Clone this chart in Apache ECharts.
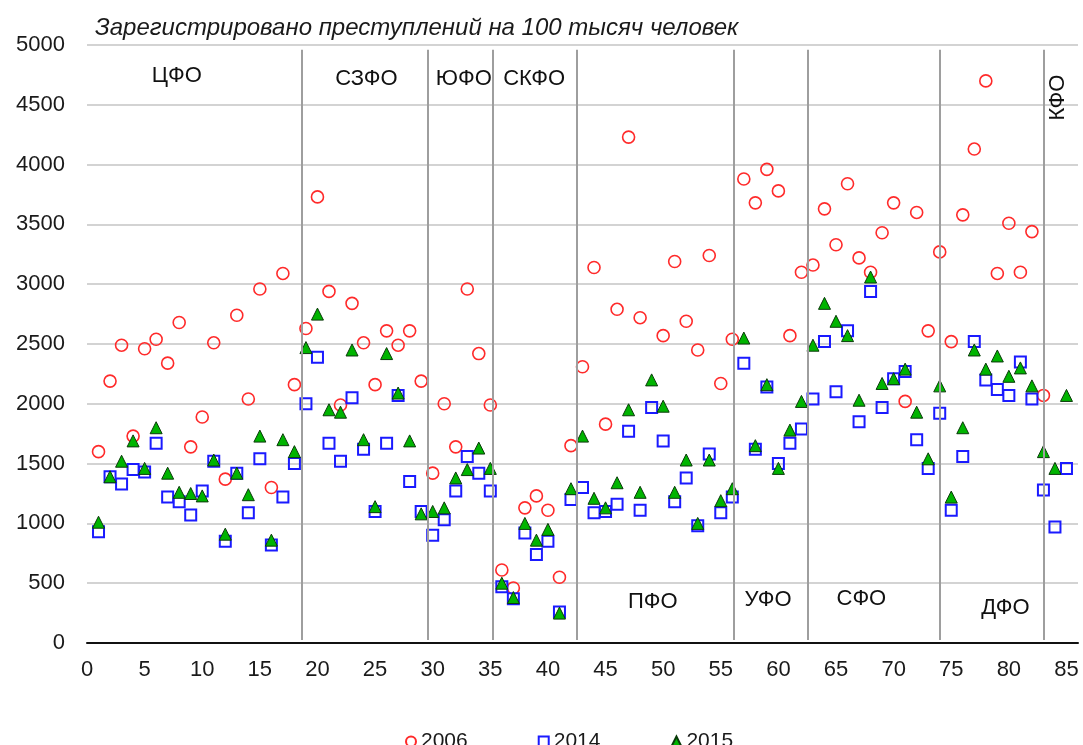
<!DOCTYPE html>
<html>
<head>
<meta charset="utf-8">
<script src="https://cdn.jsdelivr.net/npm/echarts@6/dist/echarts.min.js"></script>
<style>
  html, body { margin: 0; padding: 0; background: #fff; }
  #chart { width: 1083px; height: 745px; }
</style>
</head>
<body>
<div id="chart"></div>
<script>
  // номера регионов по оси X
  var regions = []
  for (var i = 1; i <= 85; i++) regions.push(i)

  var y2006 = [1600, 2190, 2490, 1730, 2460, 2540, 2340, 2680, 1640, 1890, 2510, 1370, 2740, 2040, 2960, 1300, 3090, 2160,
    2630, 3730, 2940, 1990, 2840, 2510, 2160, 2610, 2490, 2610, 2190,
    1420, 2000, 1640, 2960, 2420, 1990,
    610, 460, 1130, 1230, 1110, 550, 1650,
    2310, 3140, 1830, 2790, 4230, 2720, null, 2570, 3190, 2690, 2450, 3240, 2170, 2540,
    3880, 3680, 3960, 3780, 2570, 3100,
    3160, 3630, 3330, 3840, 3220, 3100, 3430, 3680, 2020, 3600, 2610, 3270,
    2520, 3580, 4130, 4700, 3090, 3510, 3100, 3440, 2070,
    null, null]

  var y2014 = [930, 1390, 1330, 1450, 1430, 1670, 1220, 1180, 1070, 1270, 1520, 850, 1420, 1090, 1540, 820, 1220, 1500,
    2000, 2390, 1670, 1520, 2050, 1620, 1100, 1670, 2070, 1350, 1100,
    900, 1030, 1270, 1560, 1420, 1270,
    470, 370, 920, 740, 850, 260, 1200,
    1300, 1090, 1100, 1160, 1770, 1110, 1970, 1690, 1180, 1380, 980, 1580, 1090, 1220,
    2340, 1620, 2140, 1500, 1670, 1790,
    2040, 2520, 2100, 2610, 1850, 2940, 1970, 2210, 2270, 1700, 1460, 1920,
    1110, 1560, 2520, 2200, 2120, 2070, 2350, 2040, 1280,
    970, 1460]

  var y2015 = [1010, 1390, 1520, 1690, 1460, 1800, 1420, 1260, 1250, 1230, 1530, 910, 1420, 1240, 1730, 860, 1700, 1600,
    2470, 2750, 1950, 1930, 2450, 1700, 1140, 2420, 2090, 1690, 1080,
    1100, 1130, 1380, 1450, 1630, 1460,
    500, 380, 1000, 860, 950, 250, 1290,
    1730, 1210, 1130, 1340, 1950, 1260, 2200, 1980, 1260, 1530, 1000, 1530, 1190, 1290,
    2550, 1650, 2160, 1460, 1780, 2020,
    2490, 2840, 2690, 2570, 2030, 3060, 2170, 2210, 2290, 1930, 1540, 2150,
    1220, 1800, 2450, 2290, 2400, 2230, 2300, 2150, 1600,
    1460, 2070]

  // границы федеральных округов (по оси X)
  var borders = [18.6, 29.6, 35.2, 42.5, 56.1, 62.55, 74.0, 83.0]

  // подписи округов
  var distNames = ['ЦФО', 'СЗФО', 'ЮФО', 'СКФО', 'ПФО', 'УФО', 'СФО', 'ДФО', 'КФО']
  var distX = [7.8, 24.25, 32.7, 38.8, 49.1, 59.1, 67.2, 79.7, 84.3]
  var distY = [4740, 4720, 4720, 4720, 340, 360, 370, 290, 4560]

  var pair = function (ys) {
    return ys.map(function (v, k) { return [regions[k], v] })
  }

  var FONT = 'Liberation Sans'

  var myChart = echarts.init(document.getElementById('chart'))
  myChart.setOption({
    animation: false,
    title: {
      text: 'Зарегистрировано преступлений на 100 тысяч человек',
      left: 90,
      top: 11,
      textStyle: { fontFamily: FONT, fontSize: 24, fontStyle: 'italic', fontWeight: 'normal', color: '#1a1a1a' }
    },
    grid: { left: 87, right: 5, top: 45, bottom: 102 },
    legend: {
      data: ['2006', '2014', '2015'],
      left: 400,
      top: 726,
      itemGap: 70,
      itemWidth: 10,
      itemHeight: 10,
      textStyle: { fontFamily: FONT, fontSize: 21, color: '#1a1a1a' }
    },
    xAxis: {
      type: 'value',
      min: 0,
      max: 86,
      interval: 5,
      splitLine: { show: false },
      axisTick: { show: false },
      axisLine: { lineStyle: { color: '#111', width: 2 } },
      axisLabel: { showMaxLabel: false, margin: 16, fontFamily: FONT, fontSize: 22, color: '#1a1a1a' }
    },
    yAxis: {
      type: 'value',
      min: 0,
      max: 5000,
      interval: 500,
      axisLine: { show: false },
      axisTick: { show: false },
      splitLine: { lineStyle: { color: '#c4c4c4', width: 1.5 } },
      axisLabel: {
        margin: 22,
        fontFamily: FONT,
        fontSize: 22,
        color: '#1a1a1a',
        formatter: function (v) { return String(v) }
      }
    },
    series: [
      {
        name: 'districts',
        type: 'scatter',
        symbolSize: 0,
        silent: true,
        itemStyle: { opacity: 1 },
        data: distNames.map(function (n, k) {
          return {
            name: n,
            value: [distX[k], distY[k]],
            label: n === 'КФО' ? { rotate: 90 } : {}
          }
        }),
        label: {
          show: true,
          position: 'inside',
          formatter: '{b}',
          fontFamily: FONT,
          fontSize: 22,
          color: '#111',
          textBorderWidth: 0,
          textBorderColor: 'transparent'
        },
        markLine: {
          silent: true,
          symbol: 'none',
          label: { show: false },
          lineStyle: { color: '#9e9e9e', width: 2, type: 'solid' },
          data: borders.map(function (b) {
            return [{ coord: [b, 25] }, { coord: [b, 4960] }]
          })
        }
      },
      {
        name: '2006',
        type: 'scatter',
        symbol: 'circle',
        symbolSize: 12,
        data: pair(y2006),
        itemStyle: { opacity: 1, color: 'rgba(255,255,255,0)', borderColor: '#ff2a2a', borderWidth: 1.6 }
      },
      {
        name: '2014',
        type: 'scatter',
        symbol: 'rect',
        symbolSize: 11,
        data: pair(y2014),
        itemStyle: { opacity: 1, color: 'rgba(255,255,255,0)', borderColor: '#1a1aff', borderWidth: 2 }
      },
      {
        name: '2015',
        type: 'scatter',
        symbol: 'triangle',
        symbolSize: 12,
        data: pair(y2015),
        itemStyle: { opacity: 1, color: '#00b400', borderColor: '#0a3a0a', borderWidth: 1 }
      }
    ]
  })
</script>
</body>
</html>
